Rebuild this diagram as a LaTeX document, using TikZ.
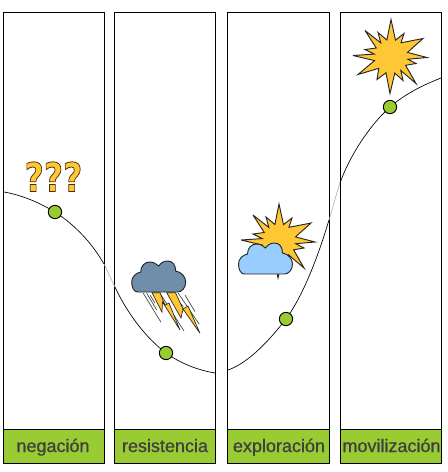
\documentclass[tikz,border=0pt]{standalone}
\usepackage{fontspec}
\setmainfont{Liberation Sans}
\newfontfamily\lblfont[FakeBold=0.8]{Liberation Sans}
\newfontfamily\qfont{DejaVu Sans Bold}
\definecolor{lblgreen}{HTML}{99CC33}
\definecolor{sunorange}{HTML}{FFC733}
\definecolor{skyblue}{HTML}{99CCFF}
\definecolor{stormblue}{HTML}{6F8EAA}
\definecolor{lbltext}{HTML}{404040}
\tikzset{
  panel/.style={draw=black,line width=1pt,fill=white},
  labelbar/.style={draw=black,line width=1pt,fill=lblgreen},
  labeltext/.style={text=lbltext,font=\lblfont\fontsize{13.5pt}{15pt}\selectfont,inner sep=0pt,anchor=base},
  curveline/.style={draw=black,line width=0.5pt},
  gapline/.style={draw=gray!70,line width=0.4pt},
  marker/.style={circle,draw=black,line width=0.7pt,fill=lblgreen,minimum size=10pt,inner sep=0pt},
  sunshape/.style={draw=black!85,line width=0.7pt,fill=sunorange,line join=miter,miter limit=6},
  cloudshape/.style={draw=black!85,line width=0.7pt},
  boltshape/.style={draw=black!85,line width=0.5pt,fill=sunorange},
  rainline/.style={draw=black!80,line width=0.45pt},
}
\newcommand{\sunpath}{(0,-37) -- (4.5,-16.4) -- (13,-23) -- (10,-13.7) -- (32,-18) -- (16.5,-4.1) -- (36,1) -- (16.8,2.7) -- (25,7) -- (14.6,8.8) -- (25,27) -- (9.8,14) -- (12,24) -- (3.8,16.6) -- (-1,37) -- (-5,16.3) -- (-14,23) -- (-12.2,11.8) -- (-33,18) -- (-16.5,4.1) -- (-38,-1) -- (-16.8,-2.4) -- (-26,-7) -- (-14.7,-8.5) -- (-26,-26) -- (-10.2,-13.6) -- (-13,-24) -- (-4.1,-16.5) -- cycle}
\newcommand{\cloudpath}{(6,0) .. controls (2,0) and (0,-5) .. (0,-10) .. controls (0,-15) and (4,-19) .. (9,-20) .. controls (9,-26) and (13,-30) .. (18,-30) .. controls (22,-30) and (25,-28) .. (27,-26) .. controls (29,-29) and (32,-31) .. (36,-31) .. controls (41,-31) and (44,-27) .. (44,-21) .. controls (50,-20) and (54,-15) .. (54,-10) .. controls (54,-4) and (50,0) .. (46,0) -- cycle}
\begin{document}
\begin{tikzpicture}[x=0.75pt,y=-0.75pt]
\useasboundingbox (0,0) rectangle (447,472);
\fill[white] (0,0) rectangle (447,472);
% panels
\draw[panel] (3.7,12.7) rectangle (104.3,429.3);
\draw[panel] (114.7,12.7) rectangle (215.3,429.3);
\draw[panel] (227.7,12.7) rectangle (329.3,429.3);
\draw[panel] (340.3,12.7) rectangle (441.7,429.3);
\draw[labelbar] (3.7,429.3) rectangle (104.3,463.3);
\draw[labelbar] (114.7,429.3) rectangle (215.3,463.3);
\draw[labelbar] (227.7,429.3) rectangle (329.3,463.3);
\draw[labelbar] (340.3,429.3) rectangle (441.7,463.3);
\node[labeltext] (lneg) at (53,452) {negación};
\node[labeltext] (lres) at (165,452) {resistencia};
\node[labeltext] (lexp) at (279,452) {exploración};
\node[labeltext] (lmov) at (391.5,452) {movilización};
% curve
\coordinate (c0) at (4,192);
\coordinate (p1) at (55,212);
\coordinate (g1) at (104,264);
\coordinate (g2) at (115,287);
\coordinate (p2) at (166,353);
\coordinate (c3) at (215,373);
\coordinate (c4) at (228,370);
\coordinate (p3) at (286,319);
\coordinate (g3) at (329,220);
\coordinate (g4) at (340,183);
\coordinate (p4) at (390,107);
\coordinate (c5) at (441,78);
\draw[curveline] (c0) .. controls (22,195) and (40,203) .. (p1) .. controls (75,225) and (92,243) .. (g1);
\draw[gapline] (g1) .. controls (108,272) and (111,279) .. (g2);
\draw[curveline] (g2) .. controls (127,313) and (146,338) .. (p2) .. controls (180,363) and (197,370) .. (c3);
\draw[curveline] (c4) .. controls (248,363) and (268,342) .. (p3) .. controls (305,293) and (320,250) .. (g3);
\draw[gapline] (g3) .. controls (333,207) and (336,195) .. (g4);
\draw[curveline] (g4) .. controls (350,155) and (370,125) .. (p4) .. controls (405,94) and (423,85) .. (c5);
\node[marker] (m1) at (p1) {};
\node[marker] (m2) at (p2) {};
\node[marker] (m3) at (p3) {};
\node[marker] (m4) at (p4) {};
% question marks
\node[inner sep=0pt,anchor=base,xscale=0.83,transform shape,text=sunorange,font=\qfont\fontsize{30pt}{32pt}\selectfont] (qq) at (53.5,191.5) {\special{pdf:code q 2 Tr 0.6 w 0.29 0.19 0 RG}???\special{pdf:code Q}};
% storm
\draw[rainline] (143.3,293.3) -- (161,322.3);
\draw[rainline] (146.7,293.3) -- (156.7,310);
\draw[rainline] (150,295) -- (155,303.3);
\draw[rainline] (160,293.3) -- (184,331);
\draw[rainline] (173.3,295) -- (183.3,306.7);
\draw[rainline] (178.3,293.3) -- (199.3,324.3);
\draw[rainline] (185,295) -- (195,311.7);
\draw[boltshape] (152,292.7) -- (162,312) -- (162.5,302) -- (180,330) -- (169,303) -- (165,305) -- (160,292.7) -- cycle;
\draw[boltshape] (166.7,292.7) -- (181,318) -- (183,309) -- (200,333.3) -- (188,306) -- (183,309) -- (175.5,292.7) -- cycle;
\begin{scope}[shift={(131.7,292)}]
\draw[cloudshape,fill=stormblue] \cloudpath;
\end{scope}
% sun and cloud
\begin{scope}[shift={(279,241)}]
\draw[sunshape] \sunpath;
\end{scope}
\begin{scope}[shift={(238.5,274)}]
\draw[cloudshape,fill=skyblue] \cloudpath;
\end{scope}
% sun
\begin{scope}[shift={(391,56.5)}]
\draw[sunshape] \sunpath;
\end{scope}
\end{tikzpicture}
\end{document}
